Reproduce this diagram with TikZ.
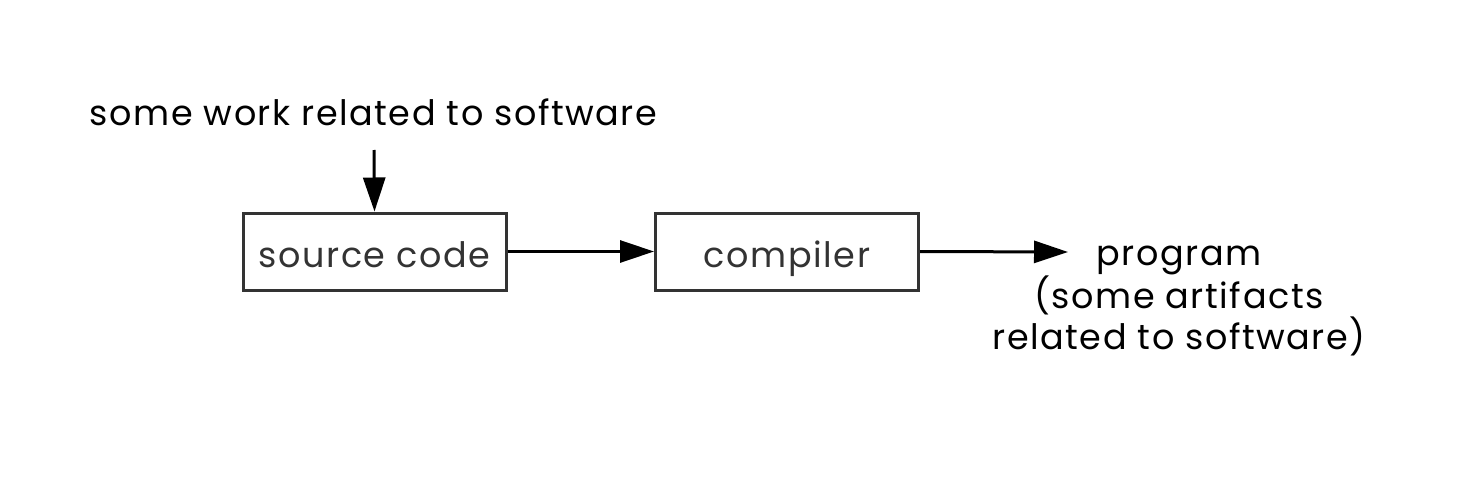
\documentclass[tikz,border=0pt]{standalone}
\usepackage{fontspec}
\setmainfont{Poppins}[LetterSpace=4.4]
\usetikzlibrary{arrows.meta}
\tikzset{
  boxnode/.style={draw=black!80, line width=3pt, minimum width=263pt, minimum height=77pt, inner sep=0pt, text=black!80, text height=31pt, text depth=0pt, font=\fontsize{35}{39}\selectfont},
  labelnode/.style={font=\fontsize{35}{35.5}\selectfont, inner sep=0pt, align=center},
  conn/.style={line width=3pt, -{Triangle[length=34pt,width=22pt]}}
}
\begin{document}
\begin{tikzpicture}[x=1pt,y=-1pt]
\useasboundingbox (0,0) rectangle (1463,484);
\node[labelnode, anchor=base] (work) at (373.5,125) {some work related to software};
\node[boxnode] (src) at (374.5,251.5) {source code};
\node[boxnode] (comp) at (787,251.5) {compiler};
\node[labelnode, anchor=north] (prog) at (1179,246) {program\\(some artifacts\\related to software)};
\coordinate (workbot) at (374,150);
\coordinate (progend) at (1068,252);
\draw[conn] (workbot) -- (src.north);
\draw[conn] (src.east) -- (comp.west);
\draw[conn] (comp.east) -- (progend);
\end{tikzpicture}
\end{document}
